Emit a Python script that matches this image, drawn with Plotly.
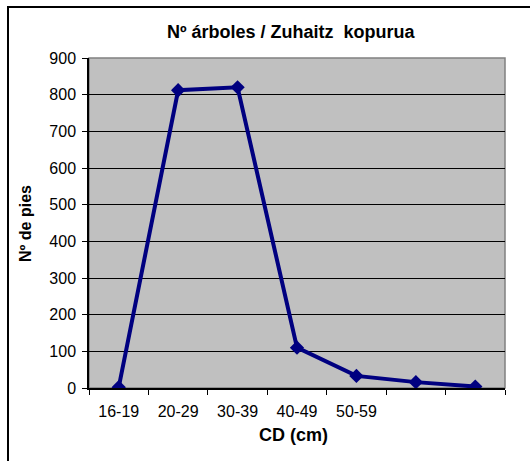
import plotly.graph_objects as go

categories = ["16-19", "20-29", "30-39", "40-49", "50-59", "60-69", "70+"]
n_trees = [2, 812, 820, 110, 33, 16, 4]
tick_labels = ["16-19", "20-29", "30-39", "40-49", "50-59", "", ""]
y_ticks = [0, 100, 200, 300, 400, 500, 600, 700, 800, 900]

FONT = "Liberation Sans, Arial, sans-serif"

fig = go.Figure()
fig.add_trace(go.Scatter(
    x=categories, y=n_trees, mode="lines+markers",
    line=dict(color="#000080", width=4),
    marker=dict(symbol="diamond", size=11, color="#000080"),
    showlegend=False,
))

L, R, T, B = 89, 25, 58, 73
W, H = 530, 461
pw, ph = W - L - R, H - T - B

def px(x):
    return (x - L) / pw

def py(y):
    return (H - B - y) / ph

fig.update_layout(
    width=W, height=H,
    margin=dict(l=L, r=R, t=T, b=B, autoexpand=False),
    paper_bgcolor="white",
    plot_bgcolor="#C0C0C0",
    font=dict(family=FONT, color="black", size=16),
    xaxis=dict(
        type="category", tickmode="array", tickvals=categories, ticktext=tick_labels,
        tickson="boundaries", ticks="outside", ticklen=5, tickcolor="black",
        showline=True, linecolor="black", linewidth=1.5, mirror=False,
        showgrid=False, zeroline=False, range=[-0.5, 6.5], automargin=False,
        tickfont=dict(family=FONT, size=16), ticklabelstandoff=8,
    ),
    yaxis=dict(
        range=[0, 900], tickmode="array", tickvals=y_ticks,
        ticks="outside", ticklen=5, tickcolor="black", automargin=False,
        showline=True, linecolor="black", linewidth=1.5,
        showgrid=True, gridcolor="black", gridwidth=1, zeroline=False,
        tickfont=dict(family=FONT, size=16), ticklabelstandoff=3,
    ),
    shapes=[
        dict(type="rect", xref="paper", yref="paper", x0=0, x1=1, y0=0, y1=1,
             line=dict(color="#808080", width=1.5), layer="below"),
        dict(type="rect", xref="paper", yref="paper",
             x0=px(8), x1=px(540), y0=py(470), y1=py(7),
             line=dict(color="black", width=2)),
    ],
    annotations=[
        dict(text="<b>Nº árboles / Zuhaitz  kopurua</b>", xref="paper", yref="paper",
             x=px(291), y=py(32), showarrow=False, xanchor="center", yanchor="middle",
             font=dict(family=FONT, size=18)),
        dict(text="<b>CD (cm)</b>", xref="paper", yref="paper",
             x=px(293), y=py(435), showarrow=False, xanchor="center", yanchor="middle",
             font=dict(family=FONT, size=18)),
        dict(text="<b>Nº de pies</b>", xref="paper", yref="paper",
             x=px(25), y=py(224), showarrow=False, xanchor="center", yanchor="middle",
             textangle=-90, font=dict(family=FONT, size=16)),
    ],
)

fig.write_html("out.html", config={"displayModeBar": False},
               post_script="document.body.style.margin='0';")
